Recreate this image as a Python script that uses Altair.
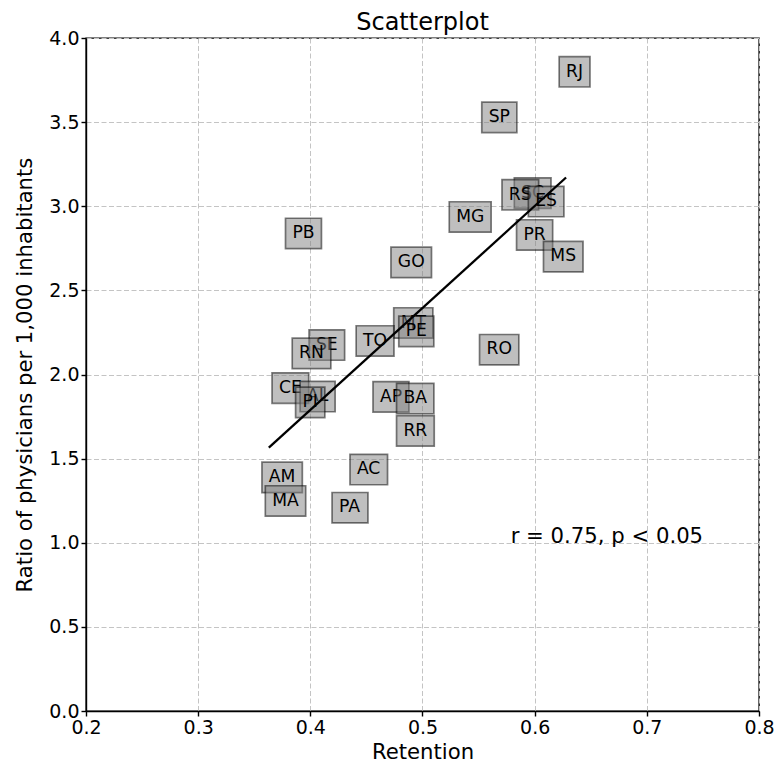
import altair as alt
import pandas as pd

# ---- data, ordered by ratio descending ----
states = ["RJ", "SP", "SC", "RS", "ES", "MG", "PB", "PR", "MS", "GO", "MT", "PE", "TO",
          "SE", "RO", "RN", "CE", "AL", "AP", "BA", "PI", "RR", "AC", "AM", "MA", "PA"]
retention = [0.628, 0.559, 0.588, 0.577, 0.6005, 0.530, 0.384, 0.590, 0.614, 0.478, 0.4805, 0.485, 0.447,
             0.405, 0.557, 0.390, 0.372, 0.397, 0.462, 0.483, 0.393, 0.483, 0.4415, 0.363, 0.366, 0.4255]
ratio = [3.771, 3.500, 3.050, 3.040, 3.000, 2.908, 2.810, 2.801, 2.672, 2.638, 2.278, 2.228, 2.171,
         2.147, 2.119, 2.097, 1.891, 1.841, 1.839, 1.829, 1.806, 1.637, 1.407, 1.360, 1.220, 1.180]
x_ticks = [0.2, 0.3, 0.4, 0.5, 0.6, 0.7, 0.8]
y_ticks = [0.0, 0.5, 1.0, 1.5, 2.0, 2.5, 3.0, 3.5, 4.0]
chart_title = "Scatterplot"
x_title = "Retention"
y_title = "Ratio of physicians per 1,000 inhabitants"
stat_text = ["r = 0.75, p < 0.05"]
stat_x = [0.5786]
stat_y = [1.0]

df = pd.DataFrame({"state": states, "retention": retention, "ratio": ratio})
df["order"] = list(range(len(df)))
ann = pd.DataFrame({"t": stat_text, "retention": stat_x, "ratio": stat_y})

W, H = 673, 673
FONT = "DejaVu Sans"
FS = 17.2          # label font size (px)
PAD = 6.9          # box padding (px)
ASC = 0.76 * FS
DESC = 0.208 * FS
# DejaVu Sans advance widths (em) used to size the label boxes
ADV = {"A": 0.684, "B": 0.686, "C": 0.698, "E": 0.632, "G": 0.770, "I": 0.295, "J": 0.295,
       "L": 0.553, "M": 0.863, "N": 0.748, "O": 0.787, "P": 0.603, "R": 0.695, "S": 0.635,
       "T": 0.611}

xscale = alt.Scale(domain=[0.2, 0.8], nice=False, zero=False)
yscale = alt.Scale(domain=[0.0, 4.0], nice=False, zero=False)
x_enc = alt.X("retention:Q", scale=xscale, title=x_title,
              axis=alt.Axis(values=x_ticks, format=".1f", titlePadding=4, labelFlush=False))
y_enc = alt.Y("ratio:Q", scale=yscale, title=y_title,
              axis=alt.Axis(values=y_ticks, format=".1f", titlePadding=13, labelFlush=False))

base = alt.Chart(df)
layers = []
for i, s in enumerate(states):
    tw = sum(ADV.get(c, 0.65) for c in s) * FS
    sub = base.transform_filter(alt.datum.order == i)
    rect = sub.mark_rect(
        xOffset=-PAD, x2Offset=tw + PAD, yOffset=DESC + PAD, y2Offset=-(ASC + PAD),
        fill="#808080", fillOpacity=0.5, stroke="#000000", strokeOpacity=0.5, strokeWidth=1.7
    ).encode(x=x_enc, x2="retention:Q", y=y_enc, y2="ratio:Q")
    txt = sub.mark_text(
        align="left", baseline="alphabetic", font=FONT, fontSize=FS, color="black"
    ).encode(x=x_enc, y=y_enc, text="state:N")
    layers += [rect, txt]

reg = base.transform_regression("retention", "ratio").mark_line(
    color="black", strokeWidth=2.3
).encode(x=x_enc, y=y_enc)

stat = alt.Chart(ann).mark_text(
    align="left", baseline="alphabetic", font=FONT, fontSize=21.2, color="black"
).encode(x=x_enc, y=y_enc, text="t:N")

chart = alt.layer(*layers, reg, stat).properties(
    width=W, height=H,
    title=alt.TitleParams(chart_title, fontSize=24, font=FONT, fontWeight="normal",
                          color="black", anchor="middle", offset=-6),
    autosize=alt.AutoSizeParams(type="none"),
    padding={"left": 78, "top": 30, "right": 16, "bottom": 51},
).configure_view(
    stroke="black", strokeWidth=1.4
).configure_axis(
    labelFont=FONT, labelFontSize=19, labelColor="black",
    titleFont=FONT, titleFontSize=21.2, titleColor="black", titleFontWeight="normal",
    tickColor="black", tickSize=5, tickWidth=1.4, labelPadding=2,
    domainColor="black", domainWidth=1.4,
    grid=True, gridColor="#c4c4c4", gridDash=[5, 2.5], gridWidth=1
)

chart.save("out.html", embed_options={"renderer": "svg", "actions": False})
